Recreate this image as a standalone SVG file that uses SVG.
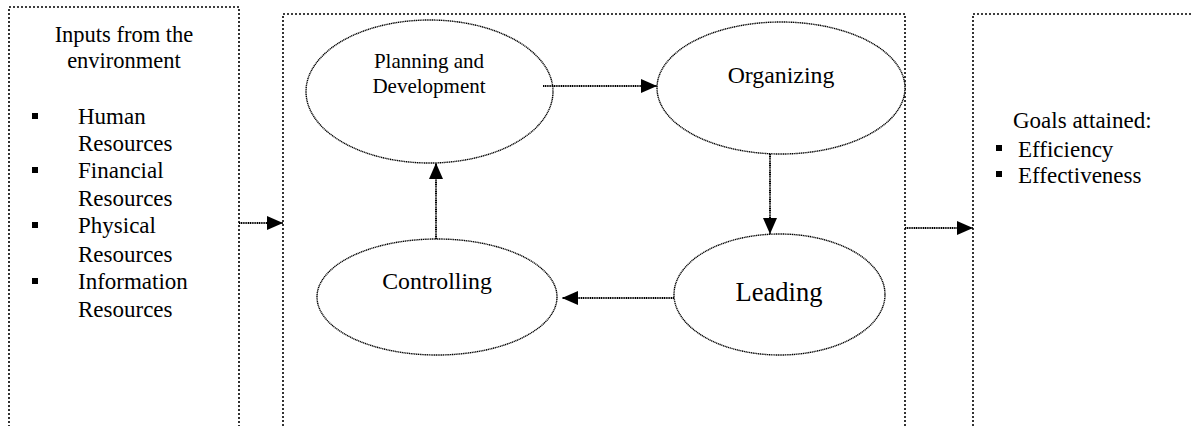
<svg xmlns="http://www.w3.org/2000/svg" width="1192" height="426" viewBox="0 0 1192 426">
<style>
  .box { fill: none; stroke: #000; stroke-width: 1.6; stroke-dasharray: 2 2; }
  .node { fill: #fff; stroke: #000; stroke-width: 1.4; stroke-dasharray: 1.2 0.6; }
  .conn { fill: none; stroke: #000; stroke-width: 2; stroke-dasharray: 1.2 0.6; }
  text { font-family: "Liberation Serif", "Times New Roman", serif; fill: #000; }
  .c { text-anchor: middle; }
  .bul { fill: #000; }
</style>
<defs>
  <marker id="ah" markerUnits="userSpaceOnUse" markerWidth="16" markerHeight="16" viewBox="0 0 16 16" refX="16" refY="8" orient="auto">
    <path d="M0,1 L16,8 L0,15 Z" fill="#000"/>
  </marker>
</defs>

<g id="inputs">
  <rect class="box" x="9" y="7" width="230" height="440"/>
  <text class="c" x="124" y="42" font-size="22.5">Inputs from the</text>
  <text class="c" x="124" y="68" font-size="22.5">environment</text>
  <rect class="bul" x="32" y="113" width="6" height="6"/>
  <text x="78" y="124" font-size="23">Human</text>
  <text x="78" y="151" font-size="23">Resources</text>
  <rect class="bul" x="32" y="167" width="6" height="6"/>
  <text x="78" y="178" font-size="23">Financial</text>
  <text x="78" y="206" font-size="23">Resources</text>
  <rect class="bul" x="32" y="222" width="6" height="6"/>
  <text x="78" y="233" font-size="23">Physical</text>
  <text x="78" y="262" font-size="23">Resources</text>
  <rect class="bul" x="32" y="278" width="6" height="6"/>
  <text x="78" y="289" font-size="23">Information</text>
  <text x="78" y="317" font-size="23">Resources</text>
</g>

<g id="process">
  <rect class="box" x="283" y="14" width="622" height="440"/>
</g>

<g id="planning">
  <ellipse class="node" cx="429.5" cy="91.5" rx="123.5" ry="71.5"/>
  <text class="c" x="429" y="68" font-size="21">Planning and</text>
  <text class="c" x="429" y="93" font-size="21">Development</text>
</g>

<g id="organizing">
  <ellipse class="node" cx="781" cy="88" rx="124" ry="66"/>
  <text class="c" x="781" y="83" font-size="23.8">Organizing</text>
</g>

<g id="leading">
  <ellipse class="node" cx="779.5" cy="294.5" rx="105.5" ry="60.5"/>
  <text class="c" x="779" y="301" font-size="26.5">Leading</text>
</g>

<g id="controlling">
  <ellipse class="node" cx="437" cy="297" rx="120" ry="58"/>
  <text class="c" x="437" y="289" font-size="23.8">Controlling</text>
</g>

<g id="goals">
  <rect class="box" x="973" y="14" width="240" height="440"/>
  <text x="1013" y="128" font-size="23">Goals attained:</text>
  <rect class="bul" x="996" y="145" width="6" height="6"/>
  <text x="1018" y="157" font-size="23">Efficiency</text>
  <rect class="bul" x="996" y="171" width="6" height="6"/>
  <text x="1018" y="183" font-size="23">Effectiveness</text>
</g>

<g id="connectors">
  <line class="conn" x1="239" y1="223" x2="283" y2="223" marker-end="url(#ah)"/>
  <line class="conn" x1="543" y1="86" x2="657" y2="86" marker-end="url(#ah)"/>
  <line class="conn" x1="770" y1="154" x2="770" y2="234" marker-end="url(#ah)"/>
  <line class="conn" x1="674" y1="298" x2="562" y2="298" marker-end="url(#ah)"/>
  <line class="conn" x1="436" y1="239" x2="436" y2="163" marker-end="url(#ah)"/>
  <line class="conn" x1="905" y1="228" x2="973" y2="228" marker-end="url(#ah)"/>
</g>
</svg>
